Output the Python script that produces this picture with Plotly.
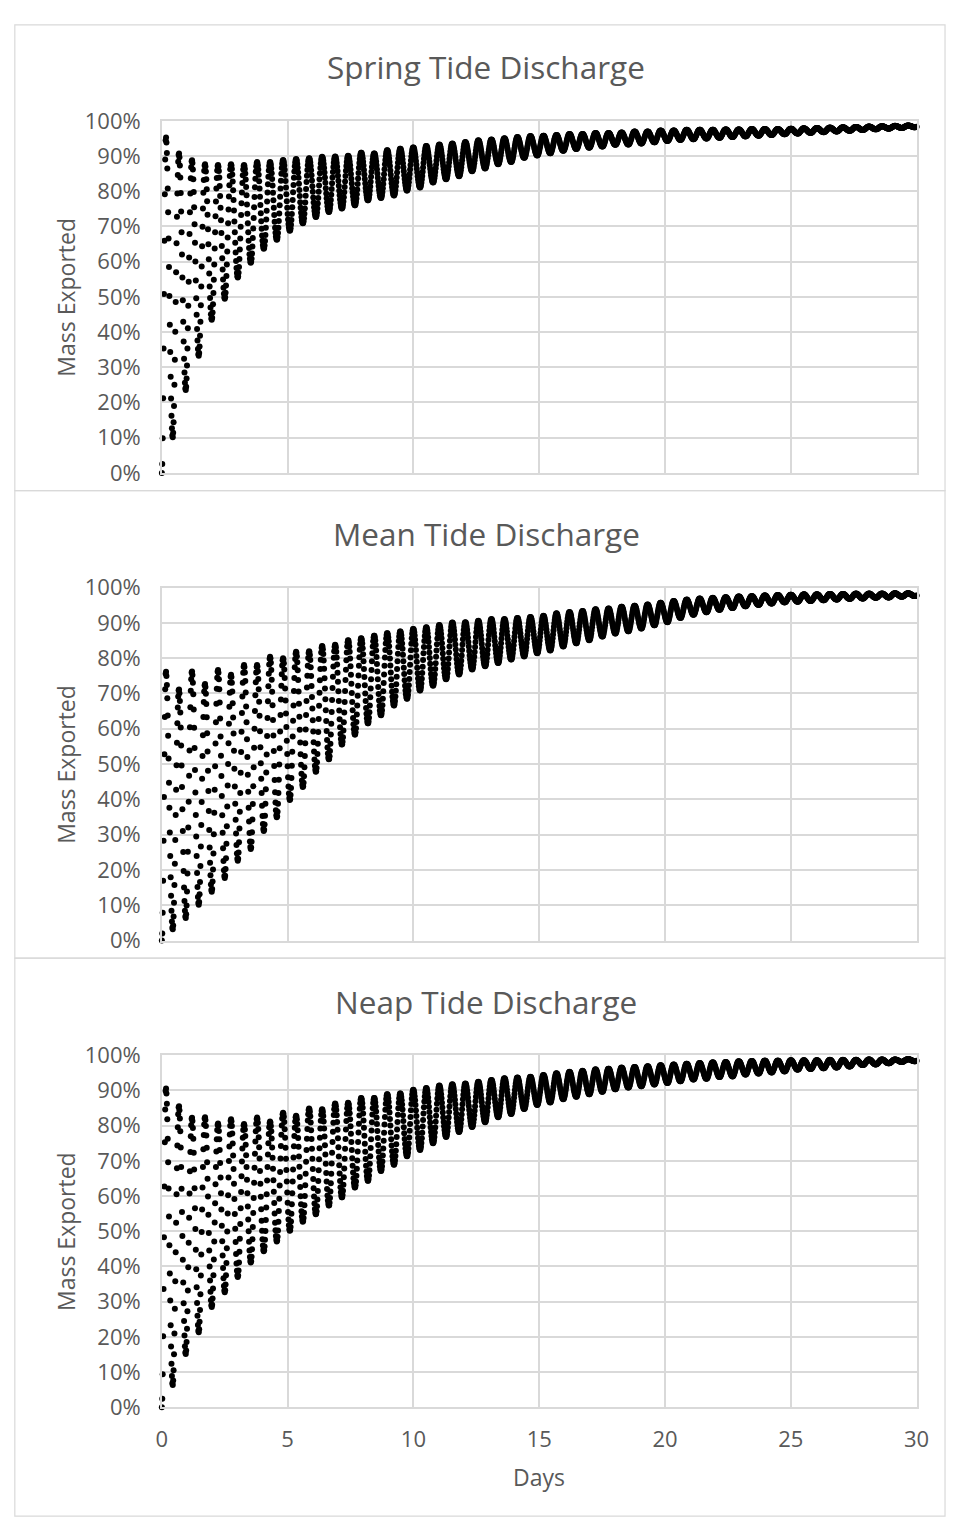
import numpy as np
import plotly.graph_objects as go

# ---------------------------------------------------------------------------
# Data: fraction of released mass exported from the estuary (%), per tidal
# cycle. Each list holds the high (peak) and low (trough) value of every
# semidiurnal cycle over the 30-day run.
# ---------------------------------------------------------------------------
panel_titles = ["Spring Tide Discharge", "Mean Tide Discharge", "Neap Tide Discharge"]

spring_peaks = [95.4, 90.8, 88.9, 87.7, 87.5, 87.7, 87.5, 88.3, 88.3, 88.9,
                89.2, 89.4, 89.8, 89.9, 90.1, 91.0, 90.8, 91.7, 92.1, 92.5,
                92.9, 93.3, 93.6, 94.0, 94.5, 94.7, 95.1, 95.4, 95.7, 95.8,
                96.0, 96.3, 96.3, 96.6, 96.6, 96.7, 97.0, 97.0, 97.3, 97.3,
                97.5, 97.5, 97.5, 97.6, 97.6, 97.7, 97.7, 97.7, 97.8, 97.9,
                98.0, 98.1, 98.2, 98.3, 98.4, 98.5, 98.6, 98.7, 98.8]
spring_troughs = [10.1, 23.5, 33.3, 43.5, 49.5, 55.5, 59.7, 63.7, 66.2, 68.8,
                  70.9, 72.7, 74.1, 75.1, 76.0, 77.4, 78.1, 78.8, 80.2, 81.1,
                  82.5, 83.4, 84.3, 85.7, 86.5, 87.7, 88.3, 89.5, 90.2, 90.8,
                  91.5, 92.0, 92.4, 92.7, 93.2, 93.3, 93.6, 93.9, 94.3, 94.6,
                  94.8, 95.0, 95.2, 95.4, 95.6, 95.8, 96.0, 96.2, 96.4, 96.6,
                  96.8, 97.0, 97.2, 97.4, 97.6, 97.8, 98.0, 98.2]

mean_peaks = [76.3, 71.2, 76.3, 72.7, 76.7, 75.3, 78.1, 78.1, 80.4, 80.0,
              81.8, 82.0, 83.5, 83.8, 85.1, 85.7, 86.4, 87.1, 87.6, 88.3,
              88.8, 89.4, 90.1, 90.2, 90.6, 91.1, 91.1, 91.4, 91.7, 92.0,
              92.7, 93.1, 93.4, 93.9, 94.1, 94.6, 94.9, 95.2, 95.7, 96.2,
              96.6, 96.9, 97.1, 97.3, 97.5, 97.6, 97.8, 97.9, 98.0, 98.1,
              98.1, 98.2, 98.2, 98.3, 98.3, 98.3, 98.4, 98.4, 98.4]
mean_troughs = [3.2, 6.4, 10.1, 13.8, 17.7, 22.6, 25.9, 31.0, 34.9, 39.8,
                43.5, 47.8, 51.3, 55.5, 58.3, 61.5, 63.8, 66.6, 68.5, 70.8,
                72.2, 74.0, 75.4, 76.8, 77.7, 78.6, 79.6, 80.5, 81.4, 82.2,
                83.3, 84.2, 85.1, 86.1, 87.0, 87.6, 88.4, 89.3, 90.2, 91.4,
                92.3, 93.0, 93.7, 94.2, 94.7, 95.1, 95.5, 95.8, 96.0, 96.2,
                96.4, 96.6, 96.8, 96.9, 97.1, 97.2, 97.4, 97.6]

neap_peaks = [90.7, 85.6, 82.3, 82.4, 80.6, 81.8, 80.5, 82.3, 81.2, 83.7,
              82.8, 84.9, 84.7, 86.3, 86.5, 87.9, 87.9, 89.0, 89.2, 90.2,
              90.7, 91.4, 91.8, 92.0, 92.5, 93.0, 93.5, 93.7, 93.9, 94.4,
              94.9, 95.3, 95.6, 96.0, 96.2, 96.5, 96.7, 96.9, 97.2, 97.4,
              97.6, 97.8, 98.0, 98.1, 98.3, 98.4, 98.5, 98.5, 98.6, 98.6,
              98.6, 98.7, 98.7, 98.7, 98.8, 98.8, 98.8, 98.9, 98.9]
neap_troughs = [6.3, 15.1, 21.3, 28.5, 32.7, 37.0, 41.1, 44.3, 47.1, 50.1,
                52.7, 54.8, 57.3, 59.6, 62.4, 64.3, 67.1, 68.9, 71.3, 73.1,
                75.0, 76.8, 78.2, 79.6, 81.0, 82.4, 83.3, 84.7, 85.9, 86.6,
                87.5, 88.2, 88.9, 89.6, 90.3, 90.8, 91.2, 91.7, 92.1, 92.6,
                93.1, 93.3, 93.8, 94.0, 94.5, 94.8, 95.1, 95.4, 95.9, 96.1,
                96.3, 96.5, 96.8, 97.2, 97.4, 97.7, 98.1, 98.3]

day_ticks = [0, 5, 10, 15, 20, 25, 30]
pct_ticks = [0.0, 0.1, 0.2, 0.3, 0.4, 0.5, 0.6, 0.7, 0.8, 0.9, 1.0]
pct_labels = ["0%", "10%", "20%", "30%", "40%", "50%", "60%", "70%", "80%", "90%", "100%"]

# Model output timing: M2 tidal cycle, first high at 0.16 d, first low at 0.43 d,
# values written every 24 minutes.
TIDAL_PERIOD = 0.5175
FIRST_PEAK = 0.16
FIRST_TROUGH = 0.43
OUTPUT_STEP = 1.0 / 60.0
RUN_LENGTH = 30.0


def cycle_series(peaks, troughs):
    """Time series through the cycle highs and lows with a smooth tidal swing."""
    kt, kv = [0.0], [0.0]
    for k in range(len(troughs)):
        kt += [FIRST_PEAK + k * TIDAL_PERIOD, FIRST_TROUGH + k * TIDAL_PERIOD]
        kv += [peaks[k], troughs[k]]
    kt.append(FIRST_PEAK + len(troughs) * TIDAL_PERIOD)
    kv.append(peaks[len(troughs)])
    kt, kv = np.array(kt), np.array(kv)
    t = np.arange(0.0, RUN_LENGTH + 1e-9, OUTPUT_STEP)
    i = np.clip(np.searchsorted(kt, t, side="right") - 1, 0, len(kt) - 2)
    s = (t - kt[i]) / (kt[i + 1] - kt[i])
    w = (1 - np.cos(np.pi * s)) / 2
    v = kv[i] + (kv[i + 1] - kv[i]) * w
    return t, v / 100.0


W, H = 960, 1533
FONT = "Open Sans"
TEXT = "#595959"
GRID = "#d9d9d9"

# pixel frame of each panel: plot top, plot bottom, title y, frame top, frame bottom
panels = [
    (spring_peaks, spring_troughs, 107, 466, 51, 9, 484),
    (mean_peaks, mean_troughs, 583, 943, 528, 484, 961),
    (neap_peaks, neap_troughs, 1060, 1419, 1005, 961, 1530),
]
PLOT_LEFT, PLOT_RIGHT = 159, 929


def px_x(x):
    return x / W


def px_y(y):
    return 1 - y / H


fig = go.Figure()
annotations = []
shapes = []
layout_axes = {}

for n, (pk, tr, top, bottom, title_y, ftop, fbot) in enumerate(panels, start=1):
    t, v = cycle_series(pk, tr)
    xa = "x" if n == 1 else f"x{n}"
    ya = "y" if n == 1 else f"y{n}"
    fig.add_trace(go.Scatter(
        x=t, y=v, mode="markers", xaxis=xa, yaxis=ya,
        marker=dict(size=6, color="black"),
        cliponaxis=False, showlegend=False, hoverinfo="skip",
    ))
    last = n == len(panels)
    layout_axes["xaxis" if n == 1 else f"xaxis{n}"] = dict(
        domain=[px_x(PLOT_LEFT), px_x(PLOT_RIGHT)],
        anchor=ya, range=[0, 30],
        tickvals=day_ticks, ticktext=[str(d) for d in day_ticks],
        showticklabels=last, ticks="", ticklabelstandoff=12,
        tickfont=dict(family=FONT, size=22, color=TEXT),
        showgrid=True, gridcolor=GRID, gridwidth=1.5,
        showline=True, linecolor=GRID, linewidth=1.5, mirror=True,
        zeroline=False,
    )
    layout_axes["yaxis" if n == 1 else f"yaxis{n}"] = dict(
        domain=[px_y(bottom), px_y(top)],
        anchor=xa, range=[0, 1],
        tickvals=pct_ticks, ticktext=pct_labels,
        ticks="", ticklabelstandoff=15,
        tickfont=dict(family=FONT, size=22, color=TEXT),
        showgrid=True, gridcolor=GRID, gridwidth=1.5,
        showline=True, linecolor=GRID, linewidth=1.5, mirror=True,
        zeroline=False,
    )
    annotations.append(dict(
        text=panel_titles[n - 1], xref="paper", yref="paper",
        x=px_x(490), y=px_y(title_y), xanchor="center", yanchor="middle",
        showarrow=False, font=dict(family=FONT, size=31.5, color=TEXT),
    ))
    annotations.append(dict(
        text="Mass Exported", xref="paper", yref="paper",
        x=px_x(61), y=px_y((top + bottom) / 2), xanchor="center", yanchor="middle",
        textangle=-90, showarrow=False, font=dict(family=FONT, size=23, color=TEXT),
    ))
    shapes.append(dict(
        type="rect", xref="paper", yref="paper",
        x0=px_x(9), x1=px_x(958), y0=px_y(fbot), y1=px_y(ftop),
        line=dict(color=GRID, width=1.2), layer="below",
    ))

annotations.append(dict(
    text="Days", xref="paper", yref="paper",
    x=px_x((PLOT_LEFT + PLOT_RIGHT) / 2), y=px_y(1490), xanchor="center", yanchor="middle",
    showarrow=False, font=dict(family=FONT, size=23, color=TEXT),
))

fig.update_layout(
    width=W, height=H,
    margin=dict(l=0, r=0, t=0, b=0),
    paper_bgcolor="white", plot_bgcolor="white",
    showlegend=False,
    annotations=annotations,
    shapes=shapes,
    **layout_axes,
)

fig.write_html("out.html")
